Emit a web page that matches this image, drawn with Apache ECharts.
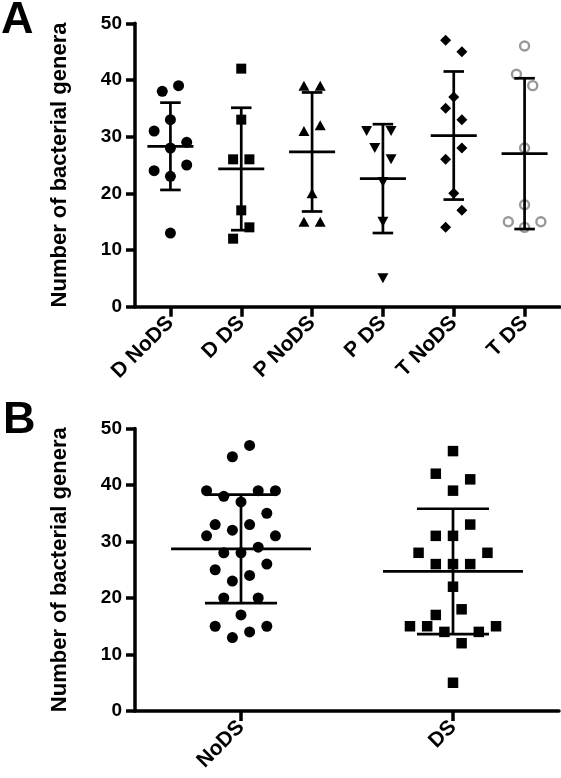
<!DOCTYPE html>
<html>
<head>
<meta charset="utf-8">
<script src="https://cdn.jsdelivr.net/npm/echarts@6/dist/echarts.min.js"></script>
<style>
  html, body { margin: 0; padding: 0; background: #fff; }
  #chart { width: 561px; height: 778px; }
</style>
</head>
<body>
<div id="chart"></div>
<script>
// ---------- data ----------
const catsA = ['D NoDS', 'D DS', 'P NoDS', 'P DS', 'T NoDS', 'T DS'];
const dNoDS = [38, 39, 33, 31, 29, 28, 25, 24, 23, 13];
const dDS = [42, 33, 26, 26, 17, 14, 12];
const pNoDS = [39, 39, 31, 32, 20, 15, 15];
const pDS = [31, 31, 28, 26, 22, 15, 5];
const tNoDS = [47, 45, 37, 35, 33, 28, 26, 20, 17, 14];
const tDS = [46, 41, 39, 28, 18, 15, 15, 14];
const meansA = [28.3, 24.3, 27.3, 22.6, 30.2, 27.0];
const sdA = [7.7, 10.8, 10.5, 9.6, 11.3, 13.3];

const catsB = ['NoDS', 'DS'];
const noDS = [47, 45, 39, 39, 39, 38, 37, 35, 33, 33, 32, 31, 31, 29, 28, 28, 26, 25, 24, 23, 20, 20, 17, 15, 15, 14, 13];
const ds = [46, 42, 41, 39, 33, 31, 31, 28, 28, 26, 26, 26, 22, 18, 17, 15, 15, 15, 14, 14, 12, 5];
const meansB = [28.7, 24.7];
const sdB = [9.6, 11.1];

const yTicks = [0, 10, 20, 30, 40, 50];
const yTitle = 'Number of bacterial genera';

// ---------- column-scatter layout (slot index of each point, same order as values) ----------
const slotDNoDS = [-1, 1, 0, -2, 2, 0, 2, -2, 0, 0];
const slotDDS = [0, 0, -1, 1, 0, 1, -1];
const slotPNoDS = [-1, 1, -1, 1, 0, -1, 1];
const slotPDS = [-2, 1, -1, 1, 0, 0, 0];
const slotTNoDS = [-1, 1, 0, -1, 1, 1, -1, 0, 1, -1];
const slotTDS = [0, -1, 1, 0, 0, -2, 2, 0];
const slotNoDS = [1, -1, -4, 2, 4, -2, 0, 3, -3, 1, -1, -4, 4, 2, -2, 0, 3, -3, 1, -1, -2, 2, 0, -3, 3, 1, -1];
const slotDS = [0, -2, 2, 0, 2, -2, 0, -4, 4, -2, 0, 2, 0, 1, -2, -5, -3, 5, -1, 3, 1, 0];

// ---------- build ----------
const FONT = "'Liberation Sans', Arial, Helvetica, sans-serif";
const STEP_A = 0.115, STEP_B = 0.0406;

function pts(catIndex, vals, slots, step) {
  return vals.map((v, j) => [catIndex + slots[j] * step, v]);
}

function yAxisCfg(gi) {
  return {
    type: 'value', gridIndex: gi, min: yTicks[0], max: yTicks[yTicks.length - 1], interval: 10,
    name: yTitle, nameLocation: 'middle', nameGap: 64, nameRotate: 90,
    nameTextStyle: { fontFamily: FONT, fontWeight: 'bold', fontSize: 22, color: '#000' },
    axisLine: { show: true, onZero: false, lineStyle: { color: '#000', width: 3.5 } },
    axisTick: { show: true, length: 9, lineStyle: { color: '#000', width: 3.5 } },
    axisLabel: { margin: 13, fontFamily: FONT, fontWeight: 'bold', fontSize: 19, color: '#000' },
    splitLine: { show: false }
  };
}

function xAxisCfg(gi, cats) {
  const idx = cats.map((c, i) => i);
  return {
    type: 'value', gridIndex: gi, min: -0.5, max: cats.length - 0.5,
    axisLine: { show: true, onZero: false, lineStyle: { color: '#000', width: 3.5 } },
    axisTick: { show: true, customValues: idx, length: 10, lineStyle: { color: '#000', width: 3.5 } },
    axisLabel: {
      customValues: idx, rotate: 45, margin: 13,
      formatter: v => cats[Math.round(v)] || '',
      fontFamily: FONT, fontWeight: 'bold', fontSize: 21, color: '#000'
    },
    splitLine: { show: false }
  };
}

function errSeries(gi, means, sds, meanFrac, capFrac) {
  return {
    type: 'custom', xAxisIndex: gi, yAxisIndex: gi, z: 10, clip: false,
    data: means.map((m, i) => [i, m, sds[i]]),
    encode: { x: 0, y: 1 },
    renderItem: function (params, api) {
      const x = api.value(0), m = api.value(1), s = api.value(2);
      const c = api.coord([x, m]);
      const t = api.coord([x, m + s]);
      const b = api.coord([x, m - s]);
      const band = api.size([1, 0])[0];
      const mh = band * meanFrac, ch = band * capFrac;
      const st = { stroke: '#000', lineWidth: 2.7 };
      return {
        type: 'group',
        children: [
          { type: 'line', shape: { x1: c[0] - mh, y1: c[1], x2: c[0] + mh, y2: c[1] }, style: st },
          { type: 'line', shape: { x1: c[0], y1: t[1], x2: c[0], y2: b[1] }, style: st },
          { type: 'line', shape: { x1: c[0] - ch, y1: t[1], x2: c[0] + ch, y2: t[1] }, style: st },
          { type: 'line', shape: { x1: c[0] - ch, y1: b[1], x2: c[0] + ch, y2: b[1] }, style: st }
        ]
      };
    }
  };
}

function scat(gi, data, symbol, size, extra) {
  return Object.assign({
    type: 'scatter', xAxisIndex: gi, yAxisIndex: gi, data: data,
    symbol: symbol, symbolSize: size,
    itemStyle: { color: '#000', opacity: 1 },
    emphasis: { disabled: true }, z: 5
  }, extra || {});
}

const chart = echarts.init(document.getElementById('chart'), null, { renderer: 'canvas' });
chart.setOption({
  animation: false,
  backgroundColor: '#fff',
  textStyle: { fontFamily: FONT },
  graphic: [
    { type: 'text', left: 1, top: -2, style: { text: 'A', font: "bold 45px " + FONT, fill: '#000' } },
    { type: 'text', left: 3, top: 398, style: { text: 'B', font: "bold 45px " + FONT, fill: '#000' } }
  ],
  grid: [
    { left: 135, top: 23.3, width: 425, height: 283.4, containLabel: false },
    { left: 135, top: 428.5, width: 424, height: 282.5, containLabel: false }
  ],
  xAxis: [xAxisCfg(0, catsA), xAxisCfg(1, catsB)],
  yAxis: [yAxisCfg(0), yAxisCfg(1)],
  series: [
    scat(0, pts(0, dNoDS, slotDNoDS, STEP_A), 'circle', 11),
    scat(0, pts(1, dDS, slotDDS, STEP_A), 'rect', 10),
    scat(0, pts(2, pNoDS, slotPNoDS, STEP_A), 'triangle', [11, 10]),
    scat(0, pts(3, pDS, slotPDS, STEP_A), 'triangle', [11, 10], { symbolRotate: 180 }),
    scat(0, pts(4, tNoDS, slotTNoDS, STEP_A), 'diamond', 11),
    scat(0, pts(5, tDS, slotTDS, STEP_A), 'circle', 9,
      { itemStyle: { color: '#fff', borderColor: '#999', borderWidth: 2.4, opacity: 1 } }),
    errSeries(0, meansA, sdA, 0.325, 0.145),
    scat(1, pts(0, noDS, slotNoDS, STEP_B), 'circle', 11),
    scat(1, pts(1, ds, slotDS, STEP_B), 'rect', 10.5),
    errSeries(1, meansB, sdB, 0.33, 0.17)
  ]
});
</script>
</body>
</html>
